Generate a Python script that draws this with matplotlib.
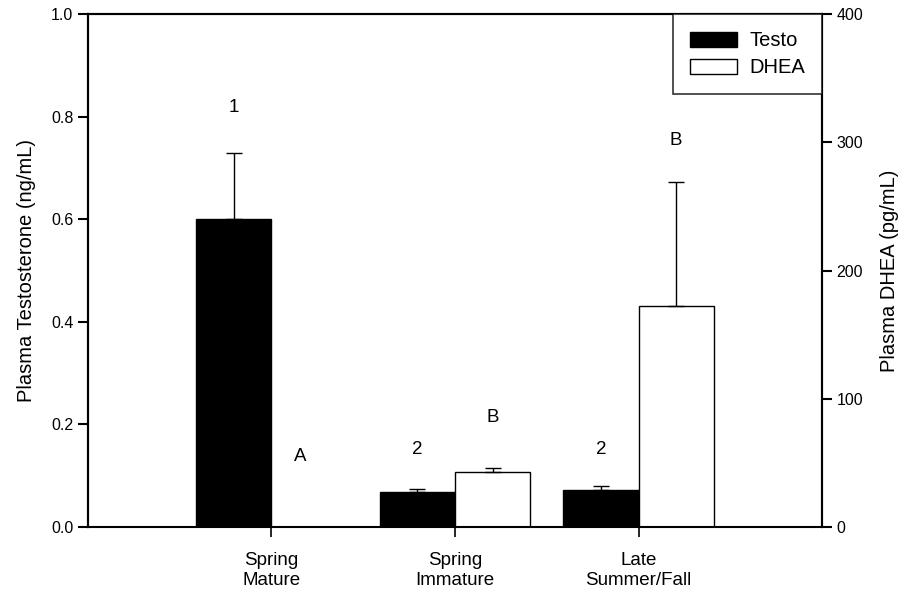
import numpy as np
import matplotlib
matplotlib.use('Agg')
import matplotlib.pyplot as plt
from matplotlib.patches import Patch

plt.rcParams['font.family'] = ['Liberation Sans', 'DejaVu Sans']

categories = ['Spring\nMature', 'Spring\nImmature', 'Late\nSummer/Fall']
testo = [0.60, 0.068, 0.072]          # ng/mL
testo_err = [0.13, 0.007, 0.007]
dhea = [0.0, 43.0, 172.0]             # pg/mL
dhea_err = [0.0, 3.0, 97.0]
testo_letters = ['1', '2', '2']
dhea_letters = ['A', 'B', 'B']
testo_letter_y = [0.817, 0.152, 0.152]
dhea_letter_y = [0.138, 0.214, 0.754]

x = np.arange(len(categories))
w = 0.41

fig = plt.figure(figsize=(9.09, 5.92), dpi=100)
ax = fig.add_axes([0.0968, 0.1098, 0.8075, 0.8665])
ax2 = ax.twinx()

ax.bar(x - w/2, testo, w, color='black', edgecolor='black', linewidth=1, zorder=2)
ax.errorbar(x - w/2, testo, yerr=[np.zeros(3), testo_err], fmt='none',
            ecolor='black', elinewidth=1, capsize=6, capthick=1, zorder=3)
ax2.bar(x + w/2, dhea, w, color='white', edgecolor='black', linewidth=1, zorder=2)
ax2.errorbar(x + w/2, dhea, yerr=[np.zeros(3), dhea_err], fmt='none',
             ecolor='black', elinewidth=1, capsize=6, capthick=1, zorder=3)

for xi, t, yy in zip(x - w/2, testo_letters, testo_letter_y):
    ax.text(xi, yy, t, ha='center', va='center', fontsize=13.5)
for xi, t, yy in zip(x + w/2, dhea_letters, dhea_letter_y):
    ax.text(xi - (0.05 if t == 'A' else 0), yy, t, ha='center', va='center', fontsize=13.5)

ax.set_xlim(-1, 3)
ax.set_ylim(0, 1.0)
ax2.set_ylim(0, 400)
ax.set_yticks([0, 0.2, 0.4, 0.6, 0.8, 1.0])
ax.set_yticklabels(['0.0', '0.2', '0.4', '0.6', '0.8', '1.0'])
ax2.set_yticks([0, 100, 200, 300, 400])

for a in (ax, ax2):
    for s in a.spines.values():
        s.set_linewidth(1.5)
    a.tick_params(direction='out', length=7, width=1.5, labelsize=11.5)
ax.tick_params(axis='x', length=7, width=1.2, pad=11)
ax.spines['bottom'].set_linewidth(1.2)

ax.set_xticks(x)
ax.set_xticklabels(categories, fontsize=13.5, linespacing=1.25)

ax.set_ylabel('Plasma Testosterone (ng/mL)', fontsize=14.5, labelpad=11)
ax2.set_ylabel('Plasma DHEA (pg/mL)', fontsize=14.5, labelpad=12)

handles = [Patch(facecolor='black', edgecolor='black', label='Testo'),
           Patch(facecolor='white', edgecolor='black', label='DHEA')]
leg = ax2.legend(handles=handles, loc='upper right', bbox_to_anchor=(1.0, 1.0),
                 fontsize=14.5, frameon=True, fancybox=False, borderaxespad=0,
                 handlelength=2.35, handleheight=0.75, borderpad=0.85,
                 labelspacing=0.4, handletextpad=0.6)
leg.get_frame().set_edgecolor('black')
leg.get_frame().set_linewidth(1.2)

fig.savefig('out.png', dpi=100)
